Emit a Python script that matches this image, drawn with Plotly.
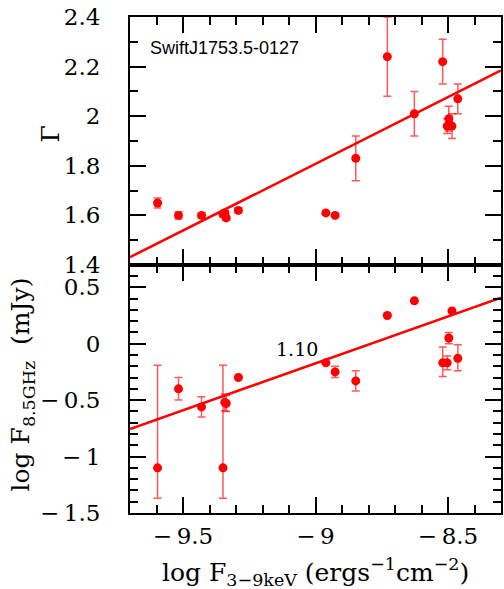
import numpy as np
import plotly.graph_objects as go
from plotly.subplots import make_subplots

# log F(3-9 keV) for each observation
log_fx = [-9.596, -9.517, -9.430, -9.349, -9.342, -9.337, -9.291, -8.961, -8.926,
          -8.848, -8.729, -8.627, -8.520, -8.503, -8.497, -8.485, -8.463]

# photon index
gamma = [1.65, 1.60, 1.60, 1.605, 1.61, 1.59, 1.62, 1.61, 1.60,
         1.83, 2.24, 2.01, 2.22, 1.96, 1.99, 1.96, 2.07]
gamma_err = [0.02, 0.015, 0.01, 0.01, 0.01, 0.01, 0.01, 0.006, 0.006,
             0.09, 0.16, 0.09, 0.09, 0.03, 0.05, 0.05, 0.06]

# log radio flux at 8.5 GHz
log_fr = [-1.10, -0.40, -0.56, -1.10, -0.52, -0.53, -0.30, -0.17, -0.25,
          -0.33, 0.25, 0.38, -0.17, -0.17, 0.05, 0.29, -0.13]
fr_err_hi = [0.91, 0.10, 0.09, 0.91, 0.075, 0.07, 0.0, 0.0, 0.05,
             0.09, 0.01, 0.0, 0.14, 0.06, 0.05, 0.0, 0.12]
fr_err_lo = [0.27, 0.10, 0.09, 0.27, 0.075, 0.07, 0.0, 0.0, 0.05,
             0.09, 0.01, 0.0, 0.12, 0.06, 0.05, 0.0, 0.11]

# linear fits y = a + b*x
fit_x = np.array([-9.7, -8.3])
gamma_fit = (6.650, 0.538)
radio_fit = (7.314, 0.832)

x_ticks = [-9.5, -9.0, -8.5]
x_ticktext = ["−\u20099.5", "−\u20099", "−\u20098.5"]
g_ticks = [1.4, 1.6, 1.8, 2.0, 2.2, 2.4]
g_ticktext = ["1.4", "1.6", "1.8", "2", "2.2", "2.4"]
r_ticks = [-1.5, -1.0, -0.5, 0.0, 0.5]
r_ticktext = ["−\u20091.5", "−\u20091", "−\u20090.5", "0", "0.5"]

red = "#ff0000"
err_col = "rgba(255,0,0,0.65)"
serif = "DejaVu Serif"

fig = make_subplots(rows=2, cols=1, shared_xaxes=True, vertical_spacing=0)

fig.add_trace(go.Scatter(x=fit_x, y=gamma_fit[0] + gamma_fit[1] * fit_x, mode="lines",
                         line=dict(color=red, width=2.5)), row=1, col=1)
fig.add_trace(go.Scatter(x=log_fx, y=gamma, mode="markers",
                         marker=dict(color=red, size=9),
                         error_y=dict(type="data", array=gamma_err, color=err_col,
                                      thickness=1.5, width=4)), row=1, col=1)

fig.add_trace(go.Scatter(x=fit_x, y=radio_fit[0] + radio_fit[1] * fit_x, mode="lines",
                         line=dict(color=red, width=2.5)), row=2, col=1)
fig.add_trace(go.Scatter(x=log_fx, y=log_fr, mode="markers",
                         marker=dict(color=red, size=9),
                         error_y=dict(type="data", symmetric=False, array=fr_err_hi,
                                      arrayminus=fr_err_lo, color=err_col,
                                      thickness=1.5, width=4)), row=2, col=1)

axis_common = dict(showline=True, linecolor="black", linewidth=2, mirror="ticks",
                   ticks="inside", ticklen=16, tickwidth=1.5, tickcolor="black",
                   showgrid=False, zeroline=False,
                   tickfont=dict(family=serif, size=23, color="black"))

fig.update_xaxes(range=[-9.7, -8.3], tickvals=x_ticks, ticktext=x_ticktext,
                 minor=dict(dtick=0.1, tick0=-9.5, ticks="inside", ticklen=8,
                            tickwidth=1.5, tickcolor="black"),
                 ticklabelstandoff=1, **axis_common)
fig.update_xaxes(showticklabels=False, row=1, col=1)

fig.update_yaxes(range=[1.4, 2.4], tickvals=g_ticks, ticktext=g_ticktext,
                 minor=dict(dtick=0.1, tick0=1.4, ticks="inside", ticklen=8,
                            tickwidth=1.5, tickcolor="black"),
                 ticklabelstandoff=23, row=1, col=1, **axis_common)
fig.update_yaxes(range=[-1.5, 0.697], tickvals=r_ticks, ticktext=r_ticktext,
                 minor=dict(dtick=0.1, tick0=-1.5, ticks="inside", ticklen=8,
                            tickwidth=1.5, tickcolor="black"),
                 ticklabelstandoff=23, row=2, col=1, **axis_common)

title_font = dict(family=serif, size=25, color="black")
fig.add_annotation(x=-9.632, y=2.275, xref="x", yref="y", text="SwiftJ1753.5-0127",
                   showarrow=False, xanchor="left", yanchor="middle",
                   font=dict(family="Liberation Sans", size=18, color="black"))
fig.add_annotation(x=-9.070, y=-0.051, xref="x2", yref="y2", text="1.10",
                   showarrow=False, xanchor="center", yanchor="middle",
                   font=dict(family=serif, size=19, color="black"))
fig.add_annotation(x=-0.2145, y=0.764, xref="paper", yref="paper", text="Γ",
                   textangle=-90, showarrow=False, xanchor="center", yanchor="middle",
                   font=title_font)
fig.add_annotation(x=-0.29, y=0.26, xref="paper", yref="paper",
                   text="log F<sub>8.5GHz</sub>  (mJy)",
                   textangle=-90, showarrow=False, xanchor="center", yanchor="middle",
                   font=title_font)
fig.add_annotation(x=0.5, y=-0.119, xref="paper", yref="paper",
                   text="log F<sub>3−9keV</sub> (ergs<sup>−1</sup>cm<sup>−2</sup>)",
                   showarrow=False, xanchor="center", yanchor="middle",
                   font=title_font)

fig.update_layout(width=504, height=589, showlegend=False,
                  margin=dict(l=130, r=1, t=17, b=76),
                  plot_bgcolor="white", paper_bgcolor="white")

fig.write_html("out.html", config={"displayModeBar": False},
               post_script="document.body.style.margin='0px';")
